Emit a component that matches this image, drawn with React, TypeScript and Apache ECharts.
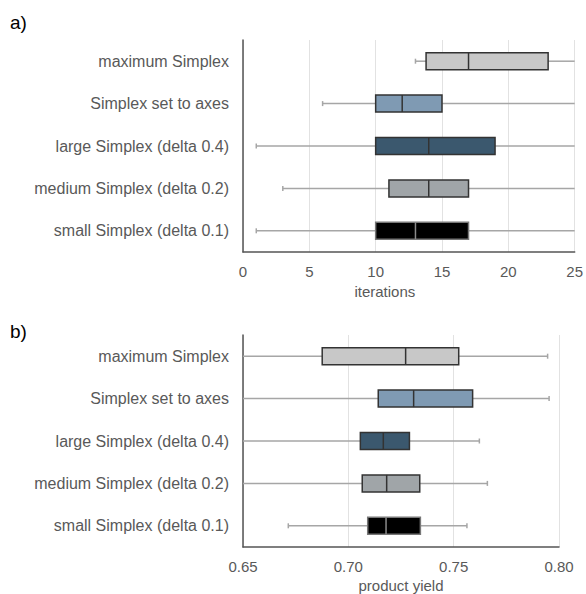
import React, { useEffect, useRef } from "react";
import * as echarts from "echarts";

const categories = [
  "maximum Simplex",
  "Simplex set to axes",
  "large Simplex (delta 0.4)",
  "medium Simplex (delta 0.2)",
  "small Simplex (delta 0.1)",
];

// a) iterations
const itMin = [13, 6, 1, 3, 1];
const itQ1 = [13.8, 10, 10, 11, 10];
const itMed = [17, 12, 14, 14, 13];
const itQ3 = [23, 15, 19, 17, 17];
const itMax = [25, 25, 25, 25, 25];
const itTicks = [0, 5, 10, 15, 20, 25];

// b) product yield
const pyMin = [0.65, 0.65, 0.65, 0.65, 0.6715];
const pyQ1 = [0.6876, 0.7142, 0.7057, 0.7066, 0.7092];
const pyMed = [0.7272, 0.731, 0.7166, 0.7182, 0.7179];
const pyQ3 = [0.7524, 0.759, 0.729, 0.7339, 0.7342];
const pyMax = [0.7946, 0.7953, 0.7622, 0.766, 0.7563];
const pyTicks = [0.65, 0.7, 0.75, 0.8];

const fills = ["#c8c8c8", "#7f9ab3", "#3b586e", "#a0a5a8", "#000000"];
const borders = ["#333333", "#333333", "#333333", "#333333", "#777777"];
const medians = ["#333333", "#333333", "#333333", "#333333", "#8a8a8a"];

const FONT = "Liberation Sans";

function makeData(mn: number[], q1: number[], md: number[], q3: number[], mx: number[]) {
  return categories.map((_, i) => [i, mn[i], q1[i], md[i], q3[i], mx[i]]);
}

function makeRender(axMin: number, axMax: number) {
  return (params: any, api: any) => {
    const c = api.value(0);
    const vals = [api.value(1), api.value(2), api.value(3), api.value(4), api.value(5)];
    const p = vals.map((v) => api.coord([v, c]));
    const y = p[0][1];
    const band = api.size([0, 1])[1];
    const h = band * 0.4;
    const capH = 5;
    const wStyle = { stroke: "#a6a6a6", lineWidth: 1.5 };
    const children: any[] = [
      { type: "line", shape: { x1: p[0][0], y1: y, x2: p[1][0], y2: y }, style: wStyle },
      { type: "line", shape: { x1: p[3][0], y1: y, x2: p[4][0], y2: y }, style: wStyle },
    ];
    if (vals[0] > axMin)
      children.push({ type: "line", shape: { x1: p[0][0], y1: y - capH / 2, x2: p[0][0], y2: y + capH / 2 }, style: wStyle });
    if (vals[4] < axMax)
      children.push({ type: "line", shape: { x1: p[4][0], y1: y - capH / 2, x2: p[4][0], y2: y + capH / 2 }, style: wStyle });
    children.push({
      type: "rect",
      shape: { x: p[1][0], y: y - h / 2, width: p[3][0] - p[1][0], height: h },
      style: { fill: fills[c], stroke: borders[c], lineWidth: 1.5 },
    });
    children.push({
      type: "line",
      shape: { x1: p[2][0], y1: y - h / 2, x2: p[2][0], y2: y + h / 2 },
      style: { stroke: medians[c], lineWidth: 1.5 },
    });
    return { type: "group", children };
  };
}

export default function App() {
  const ref = useRef<HTMLDivElement>(null);
  useEffect(() => {
    if (!ref.current) return;
    const chart = echarts.init(ref.current, null, { renderer: "svg" });
    const axisLabel = { color: "#595959", fontSize: 15, fontFamily: FONT, margin: 12 };
    const catAxisBase = {
      type: "category",
      data: categories,
      inverse: true,
      axisLine: { show: true, lineStyle: { color: "#555", width: 1.5 } },
      axisTick: { show: false },
      axisLabel: { color: "#595959", fontSize: 16, fontFamily: FONT, margin: 14 },
      splitLine: { show: false },
    };
    const valAxisBase = {
      type: "value",
      axisLine: { show: true, lineStyle: { color: "#555", width: 1.5 } },
      axisTick: { show: false },
      splitLine: { show: true, lineStyle: { color: "#e2e2e2", width: 1 } },
      nameLocation: "middle",
      nameTextStyle: { color: "#595959", fontSize: 15, fontFamily: FONT },
    };
    chart.setOption({
      animation: false,
      backgroundColor: "#ffffff",
      grid: [
        { left: 243, right: 10, top: 40, height: 212 },
        { left: 243, right: 27, top: 335, height: 212 },
      ],
      xAxis: [
        {
          ...valAxisBase,
          gridIndex: 0,
          min: itTicks[0],
          max: itTicks[itTicks.length - 1],
          interval: 5,
          name: "iterations",
          nameGap: 32,
          nameTextStyle: { ...valAxisBase.nameTextStyle, padding: [0, 48, 0, 0] },
          axisLabel: { ...axisLabel },
        },
        {
          ...valAxisBase,
          gridIndex: 1,
          min: pyTicks[0],
          max: pyTicks[pyTicks.length - 1],
          interval: 0.05,
          name: "product yield",
          nameGap: 31,
          axisLabel: { ...axisLabel, formatter: (v: number) => v.toFixed(2) },
        },
      ],
      yAxis: [
        { ...catAxisBase, gridIndex: 0 },
        { ...catAxisBase, gridIndex: 1 },
      ],
      graphic: [
        { type: "text", left: 10, top: 13, style: { text: "a)", fontSize: 19, fontFamily: FONT, fill: "#000" } },
        { type: "text", left: 10, top: 322, style: { text: "b)", fontSize: 19, fontFamily: FONT, fill: "#000" } },
      ],
      series: [
        {
          type: "custom",
          xAxisIndex: 0,
          yAxisIndex: 0,
          clip: true,
          encode: { x: [1, 2, 3, 4, 5], y: 0 },
          data: makeData(itMin, itQ1, itMed, itQ3, itMax),
          renderItem: makeRender(itTicks[0], itTicks[itTicks.length - 1]),
        },
        {
          type: "custom",
          xAxisIndex: 1,
          yAxisIndex: 1,
          clip: true,
          encode: { x: [1, 2, 3, 4, 5], y: 0 },
          data: makeData(pyMin, pyQ1, pyMed, pyQ3, pyMax),
          renderItem: makeRender(pyTicks[0], pyTicks[pyTicks.length - 1]),
        },
      ],
    });
    return () => chart.dispose();
  }, []);
  return (
    <div
      ref={ref}
      style={{ position: "fixed", left: 0, top: 0, width: 586, height: 594 }}
    />
  );
}
